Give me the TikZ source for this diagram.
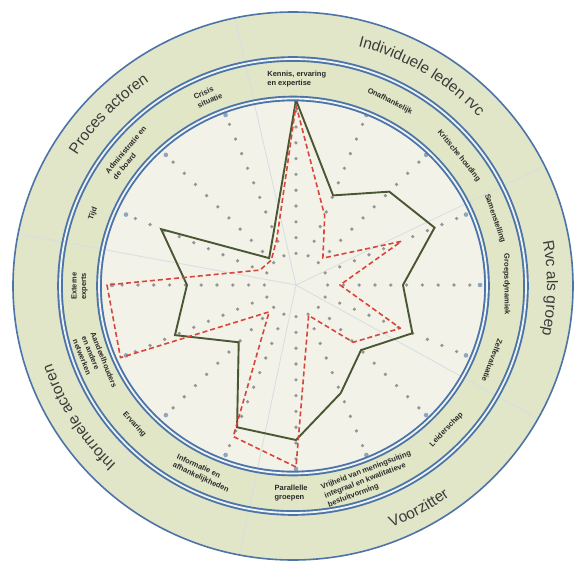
\documentclass[tikz,border=0pt]{standalone}
\usepackage{fontspec}
\setmainfont{Liberation Sans}
\usetikzlibrary{decorations.text}
\definecolor{bandgreen}{HTML}{E2E6C9}
\definecolor{midgreen}{HTML}{E1E6C6}
\definecolor{innercream}{HTML}{F3F2E8}
\definecolor{ringblue}{HTML}{4C74A6}
\definecolor{ringlight}{HTML}{EEF3F7}
\definecolor{solidline}{HTML}{4A5733}
\definecolor{dashred}{HTML}{D8453A}
\definecolor{dotgray}{HTML}{959595}
\definecolor{sepgray}{HTML}{D5DEE3}
\definecolor{endmarkc}{HTML}{8FA6BE}
\definecolor{txtdark}{HTML}{2B2B2B}
\definecolor{outertxt}{HTML}{3A3D3A}
\tikzset{
  itemlbl/.style={font=\fontsize{7.5}{9.5}\selectfont\bfseries, text=txtdark, align=left, inner sep=0pt},
  solidpoly/.style={draw=solidline, line width=1.9pt, line join=miter, miter limit=4},
  dashpoly/.style={draw=dashred, line width=1.6pt, dash pattern=on 5pt off 3pt, line join=round},
  ringline/.style={draw=ringblue, line width=5.6pt},
  ringgap/.style={draw=ringlight, line width=1.8pt},
  seprule/.style={draw=sepgray, line width=0.8pt},
  spokedot/.style={fill=dotgray},
  endmark/.style={fill=endmarkc},
}
\begin{document}
\begin{tikzpicture}[x=1pt,y=1pt]
\useasboundingbox (-293,-277) rectangle (283,286);
\fill[white] (-293,-277) rectangle (283,286);
% bands
\fill[bandgreen] (0,0) ellipse [x radius=280pt, y radius=274pt];
\fill[midgreen] (0,0) ellipse [x radius=233pt, y radius=227pt];
\fill[innercream] (0,0) ellipse [x radius=194pt, y radius=187.5pt];
% group separators
\coordinate (C) at (3,1);
\foreach \a in {102,169,-101,-29,26} \draw[seprule] (C) -- (\a:279pt and 273pt);
% radar chart
\begin{scope}[shift={(3,1)}]
  \foreach \i in {0,...,15} {
    \pgfmathsetmacro\ang{90-22.5*\i}
    \foreach \k in {2,...,11} \fill[spokedot] (\ang:{15.8pt*\k}) circle (1.8pt);
    \fill[endmark] (\ang:184pt) circle (2.3pt);
  }
  \draw[solidpoly] (90:185pt) -- (67.5:97pt) -- (45:132pt) -- (22.5:150pt) -- (0:107pt)
    -- (-22.5:126pt) -- (-45:92pt) -- (-67.5:117pt) -- (-90:155pt) -- (-112.5:154pt)
    -- (-135:81pt) -- (-157.5:131pt) -- (180:109pt) -- (157.5:146pt) -- (135:38pt)
    -- (112.5:58pt) -- cycle;
  \draw[dashpoly] (90:180pt) -- (67.5:75pt) -- (45:38pt) -- (22.5:114pt) -- (0:44pt)
    -- (-22.5:113pt) -- (-45:81pt) -- (-67.5:33pt) -- (-90:182pt) -- (-112.5:164pt)
    -- (-135:38pt) -- (-157.5:190pt) -- (180:189pt) -- (157.5:39pt) -- (135:35pt)
    -- (112.5:50pt) -- cycle;
\end{scope}
% rings
\draw[ringline] (0,0) ellipse [x radius=233pt, y radius=227pt];
\draw[ringgap] (0,0) ellipse [x radius=233pt, y radius=227pt];
\draw[ringline] (0,0) ellipse [x radius=194pt, y radius=187.5pt];
\draw[ringgap] (0,0) ellipse [x radius=194pt, y radius=187.5pt];
\draw[draw=ringblue, line width=1.6pt] (0,0) ellipse [x radius=280pt, y radius=274pt];
% item labels
\node[itemlbl] (kennis) at (89:213.5pt and 207pt) {Kennis, ervaring\\en expertise};
\node[itemlbl, rotate=-27] (onafh) at (63:213.5pt and 207pt) {Onafhankelijk};
\node[itemlbl, rotate=-51] (kritisch) at (39:213.5pt and 207pt) {Kritische houding};
\node[itemlbl, rotate=-71] (samen) at (19:213.5pt and 207pt) {Samenstelling};
\node[itemlbl, rotate=-89.5] (groep) at (0.5:213.5pt and 207pt) {Groepsdynamiek};
\node[itemlbl, rotate=-111] (zelf) at (-21:213.5pt and 207pt) {Zelfevaluatie};
\node[itemlbl, rotate=46] (leider) at (-44:213.5pt and 207pt) {Leiderschap};
\node[itemlbl, rotate=21] (vrijheid) at (-69:213.5pt and 207pt) {Vrijheid van meningsuiting\\integraal en kwalitatieve\\besluitvorming};
\node[itemlbl] (parallel) at (-90.5:213.5pt and 207pt) {Parallelle\\groepen};
\node[itemlbl, rotate=-25] (informatie) at (-115:213.5pt and 207pt) {Informatie en\\afhankelijkheden};
\node[itemlbl, rotate=-48] (ervaring) at (-138:213.5pt and 207pt) {Ervaring};
\node[itemlbl, rotate=-68] (aandeel) at (-158:213.5pt and 207pt) {Aandeelhouders\\en andere\\netwerken};
\node[itemlbl, rotate=90] (extern) at (180:213.5pt and 207pt) {Externe\\experts};
\node[itemlbl, rotate=69.5] (tijd) at (159.5:213.5pt and 207pt) {Tijd};
\node[itemlbl, rotate=50] (admin) at (140:213.5pt and 207pt) {Administratie en\\de board};
\node[itemlbl, rotate=23.5] (crisis) at (113.5:213.5pt and 207pt) {Crisis\\situatie};
% outer group labels
\path[decorate, decoration={text along path, text align=center, text color=outertxt,
  text={|\fontsize{15.5}{17}\selectfont|Individuele leden rvc}}]
  (89:254pt and 248pt) arc[start angle=89, end angle=29, x radius=254pt, y radius=248pt];
\path[decorate, decoration={text along path, text align=center, text color=outertxt,
  text={|\fontsize{15.5}{17}\selectfont|Rvc als groep}}]
  (29.5:254pt and 248pt) arc[start angle=29.5, end angle=-30.5, x radius=254pt, y radius=248pt];
\path[decorate, decoration={text along path, text align=center, text color=outertxt,
  text={|\fontsize{15.5}{17}\selectfont|Voorzitter}}]
  (-91:266pt and 260pt) arc[start angle=-91, end angle=-31, x radius=266pt, y radius=260pt];
\path[decorate, decoration={text along path, text align=center, text color=outertxt,
  text={|\fontsize{15.5}{17}\selectfont|Informele actoren}}]
  (-118:254pt and 248pt) arc[start angle=-118, end angle=-178, x radius=254pt, y radius=248pt];
\path[decorate, decoration={text along path, text align=center, text color=outertxt,
  text={|\fontsize{15.5}{17}\selectfont|Proces actoren}}]
  (166:254pt and 248pt) arc[start angle=166, end angle=107, x radius=254pt, y radius=248pt];
\end{tikzpicture}
\end{document}
